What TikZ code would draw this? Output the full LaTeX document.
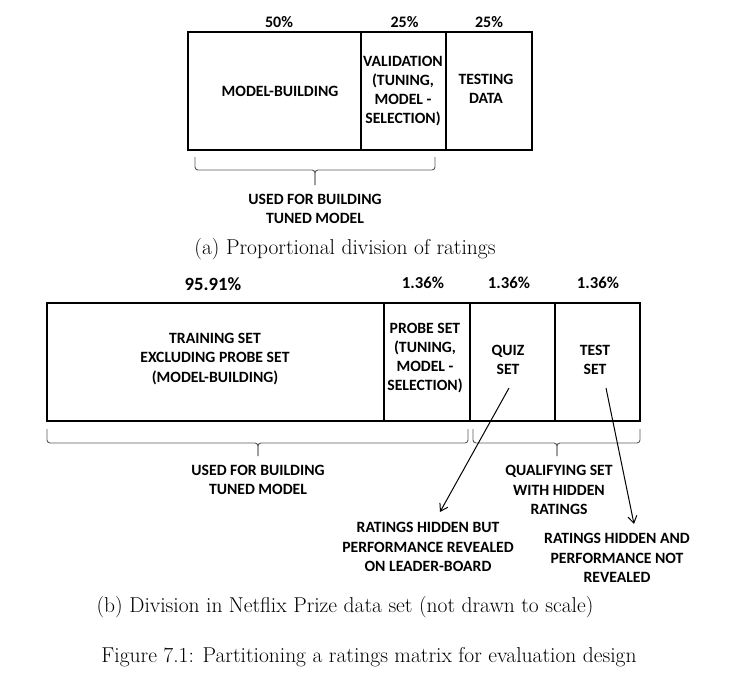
\documentclass[tikz,border=0pt]{standalone}
\usepackage{fontspec}
\newfontfamily\lblfont{Carlito}
\usetikzlibrary{arrows.meta}
\definecolor{bracegray}{RGB}{90,90,90}
\begin{document}
\begin{tikzpicture}[x=1pt,y=-1pt,
  lbl/.style={font=\lblfont\bfseries\fontsize{15.7}{19.3}\selectfont, align=center, inner sep=0pt},
  pct/.style={font=\lblfont\bfseries\fontsize{16}{18}\selectfont, inner sep=0pt},
  captext/.style={font=\fontsize{21.5}{25}\selectfont, inner sep=0pt},
  outer/.style={line width=2.2pt},
  divider/.style={line width=1.4pt},
  bracepath/.style={draw=bracegray, line width=0.9pt, rounded corners=3pt},
  pointer/.style={line width=1pt, -{Straight Barb[length=7pt,width=9pt]}}
]
\useasboundingbox (0,0) rectangle (739,677);

% ---------- (a) ----------
\draw[outer] (188,32) rectangle (532,150);
\draw[divider] (361,32) -- (361,150);
\draw[divider] (446,32) -- (446,150);

\node[pct] (pa1) at (279,22) {50\%};
\node[pct] (pa2) at (404.5,22) {25\%};
\node[pct] (pa3) at (489,22) {25\%};

\node[lbl] (mb) at (280,91) {MODEL-BUILDING};
\node[lbl] (val) at (403,91) {VALIDATION\\(TUNING,\\MODEL -\\SELECTION)};
\node[lbl] (td) at (486,89) {TESTING\\DATA};

\draw[bracepath] (195,157) -- (195,170) -- (315,170) -- (315,185);
\draw[bracepath] (435,157) -- (435,170) -- (315,170) -- (315,185);
\node[lbl] (usea) at (315,209) {USED FOR BUILDING\\TUNED MODEL};

\node[captext] (capa) at (345,249) {(a) Proportional division of ratings};

% ---------- (b) ----------
\draw[outer] (47,303) rectangle (640,421);
\draw[outer] (384,303) -- (384,421);
\draw[outer] (470,303) -- (470,421);
\draw[outer] (555,303) -- (555,421);

\node[pct, font=\lblfont\bfseries\fontsize{18.7}{20}\selectfont] (pb1) at (213,284) {95.91\%};
\node[pct, font=\lblfont\bfseries\fontsize{16.7}{19}\selectfont] (pb2) at (423,283) {1.36\%};
\node[pct, font=\lblfont\bfseries\fontsize{16.7}{19}\selectfont] (pb3) at (509,283) {1.36\%};
\node[pct, font=\lblfont\bfseries\fontsize{16.7}{19}\selectfont] (pb4) at (598,283) {1.36\%};

\node[lbl] (train) at (215,359) {TRAINING SET\\EXCLUDING PROBE SET\\(MODEL-BUILDING)};
\node[lbl] (probe) at (425,358) {PROBE SET\\(TUNING,\\MODEL -\\SELECTION)};
\node[lbl] (quiz) at (508,360) {QUIZ\\SET};
\node[lbl] (test) at (595,360) {TEST\\SET};

\draw[bracepath] (47,429) -- (47,443) -- (258,443) -- (258,456);
\draw[bracepath] (468,429) -- (468,443) -- (258,443) -- (258,456);
\draw[bracepath] (473,429) -- (473,443) -- (557,443) -- (557,456);
\draw[bracepath] (640,429) -- (640,443) -- (557,443) -- (557,456);

\node[lbl] (useb) at (258,480) {USED FOR BUILDING\\TUNED MODEL};
\node[lbl] (qual) at (559,490) {QUALIFYING SET\\WITH HIDDEN\\RATINGS};

\node[lbl] (hbut) at (428,547) {RATINGS HIDDEN BUT\\PERFORMANCE REVEALED\\ON LEADER-BOARD};
\node[lbl] (hand) at (617,558) {RATINGS HIDDEN AND\\PERFORMANCE NOT\\REVEALED};

\coordinate (qs) at (509,388);
\coordinate (qe) at (440,512);
\coordinate (ts) at (606,388);
\coordinate (te) at (634,524);
\draw[pointer] (qs) -- (qe);
\draw[pointer] (ts) -- (te);

\node[captext] (capb) at (345,607) {(b) Division in Netflix Prize data set (not drawn to scale)};
\node[captext] (capf) at (369,657) {Figure 7.1: Partitioning a ratings matrix for evaluation design};
\end{tikzpicture}
\end{document}
